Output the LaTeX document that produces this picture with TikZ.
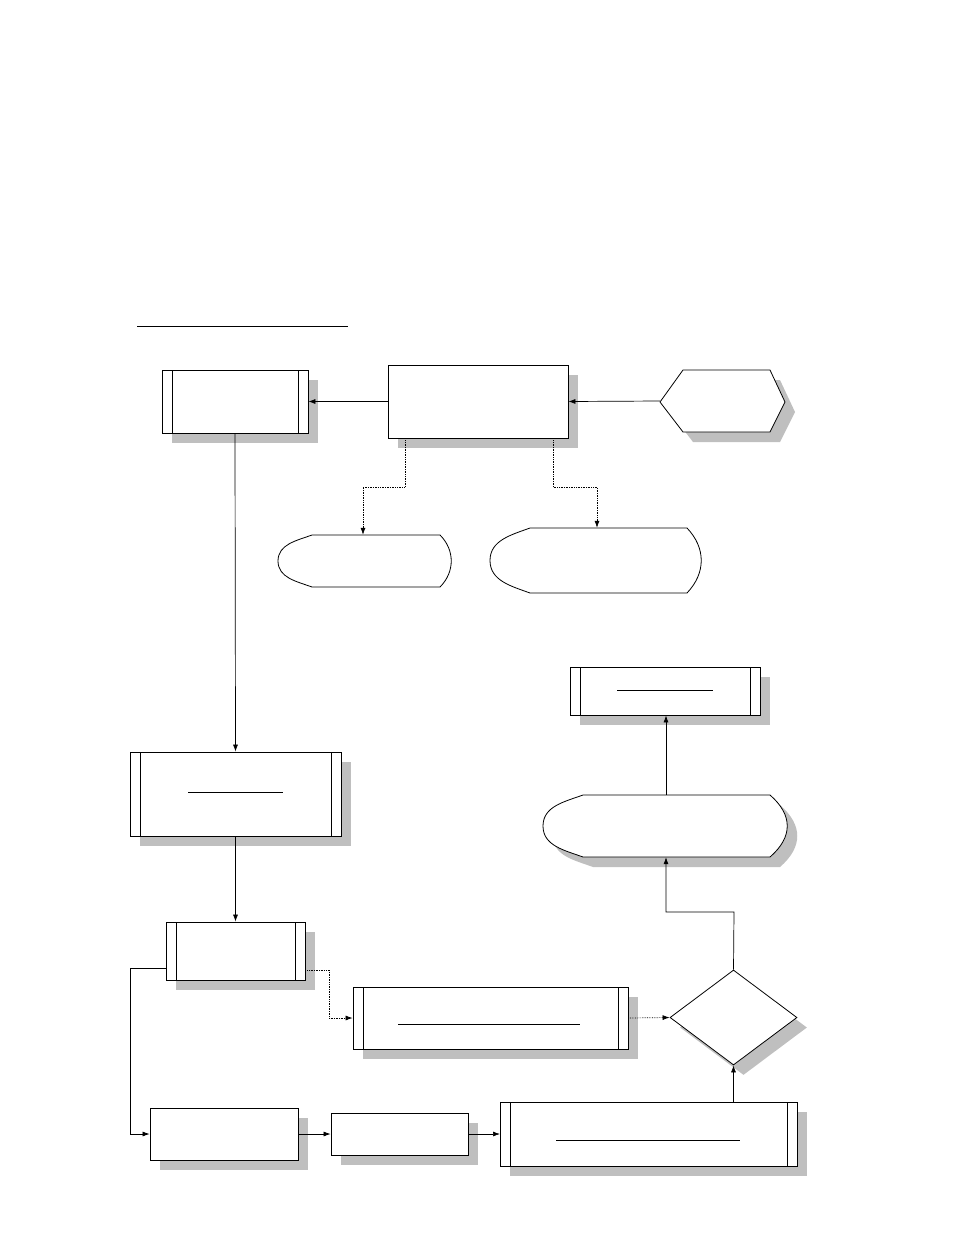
\documentclass[tikz,border=0pt]{standalone}
\usetikzlibrary{shadows,shapes.geometric,arrows.meta}
\begin{document}
\begin{tikzpicture}[x=1pt,y=-1pt,
  sh/.style={drop shadow={shadow xshift=10pt,shadow yshift=-10pt,fill=black!25,opacity=1}},
  box/.style={draw,fill=white,inner sep=0pt,line width=0.8pt},
  boxs/.style={box,sh},
  pre/.style={boxs,path picture={
     \draw ([xshift=10pt]path picture bounding box.north west)--([xshift=10pt]path picture bounding box.south west);
     \draw ([xshift=-10pt]path picture bounding box.north east)--([xshift=-10pt]path picture bounding box.south east);}},
  ghost/.style={inner sep=0pt},
  arr/.style={-{Latex[length=7pt,width=5pt]},line width=0.7pt},
  dot/.style={arr,densely dotted}]
\useasboundingbox (0,0) rectangle (954,1235);
\draw[line width=0.8pt] (137,326) -- (348,326);
% A
\node[pre,minimum width=146pt,minimum height=63pt] (A) at (235,401.5) {};
\node[boxs,minimum width=180pt,minimum height=73pt] (B) at (478,401.5) {};
% C hexagon
\fill[black!25] (670,412)--(693,380)--(780,380)--(795,412)--(780,442)--(693,442)--cycle;
\draw[fill=white,line width=0.8pt] (660,402)--(683,370)--(770,370)--(785,402)--(770,432)--(683,432)--cycle;
\node[ghost,minimum width=125pt,minimum height=62pt] (C) at (722.5,401) {};
% D
\draw[line width=0.8pt] (312,535)--(440,535) .. controls (455,550) and (455,572) .. (440,587)--(312,587) to[out=160,in=-90] (278,561) to[out=90,in=200] (312,535);
\node[ghost,minimum width=174pt,minimum height=52pt] (D) at (365,561) {};
% E
\draw[line width=0.8pt] (530,528)--(687,528) .. controls (706,548) and (706,573) .. (687,593)--(530,593) to[out=160,in=-90] (490,560.5) to[out=90,in=200] (530,528);
\node[ghost,minimum width=212pt,minimum height=65pt] (E) at (596,560.5) {};
% F
\node[pre,minimum width=190pt,minimum height=48pt] (F) at (665,691) {};
\draw[line width=0.8pt] (617,690)--(713,690);
% G
\fill[black!25] (593,805)--(780,805) .. controls (803,825) and (803,847) .. (780,867)--(593,867) to[out=160,in=-90] (553,836) to[out=90,in=200] (593,805);
\draw[fill=white,line width=0.8pt] (583,795)--(770,795) .. controls (793,815) and (793,837) .. (770,857)--(583,857) to[out=160,in=-90] (543,826) to[out=90,in=200] (583,795);
\node[ghost,minimum width=242pt,minimum height=62pt] (G) at (664,826) {};
% H
\node[pre,minimum width=211pt,minimum height=84pt] (H) at (235.5,794) {};
\draw[line width=0.8pt] (188,792)--(283,792);
% I
\node[pre,minimum width=139pt,minimum height=58pt] (I) at (235.5,951) {};
% J
\node[pre,minimum width=275pt,minimum height=62pt] (J) at (490.5,1018) {};
\draw[line width=0.8pt] (398,1024)--(580,1024);
% K
\node[boxs,diamond,minimum width=127pt,minimum height=95pt] (K) at (733.5,1017.5) {};
% L M N
\node[boxs,minimum width=148pt,minimum height=52pt] (L) at (224,1134) {};
\node[boxs,minimum width=137pt,minimum height=42pt] (M) at (399.5,1134) {};
\node[pre,minimum width=297pt,minimum height=64pt] (N) at (648.5,1134) {};
\draw[line width=0.8pt] (556,1140)--(740,1140);
% connectors
\draw[arr] (B.west) -- (A.east);
\draw[arr] (C.west) -- (B.east);
\draw[dot] (B.south -| 405,0) -- (405,487) -- (363,487) -- (D.north -| 363,0);
\draw[dot] (B.south -| 553,0) -- (553,487) -- (597,487) -- (E.north -| 597,0);
\draw[arr] (A.south) -- (H.north);
\draw[arr] (H.south) -- (I.north);
\draw[arr] (I.west |- 0,968) -- (130,968) -- (130,1134) -- (L.west);
\draw[dot] (I.east |- 0,970) -- (329,970) -- (329,1018) -- (J.west);
\draw[dot] (J.east) -- (K.west);
\draw[arr] (L.east) -- (M.west);
\draw[arr] (M.east) -- (N.west -| 500,0 |- M.east);
\draw[arr] (N.north -| K.south) -- (K.south);
\draw[arr] (K.north) -- (734,912) -- (666,912) -- (G.south -| 666,0);
\draw[arr] (G.north -| 666,0) -- (F.south -| 666,0);
\end{tikzpicture}
\end{document}
